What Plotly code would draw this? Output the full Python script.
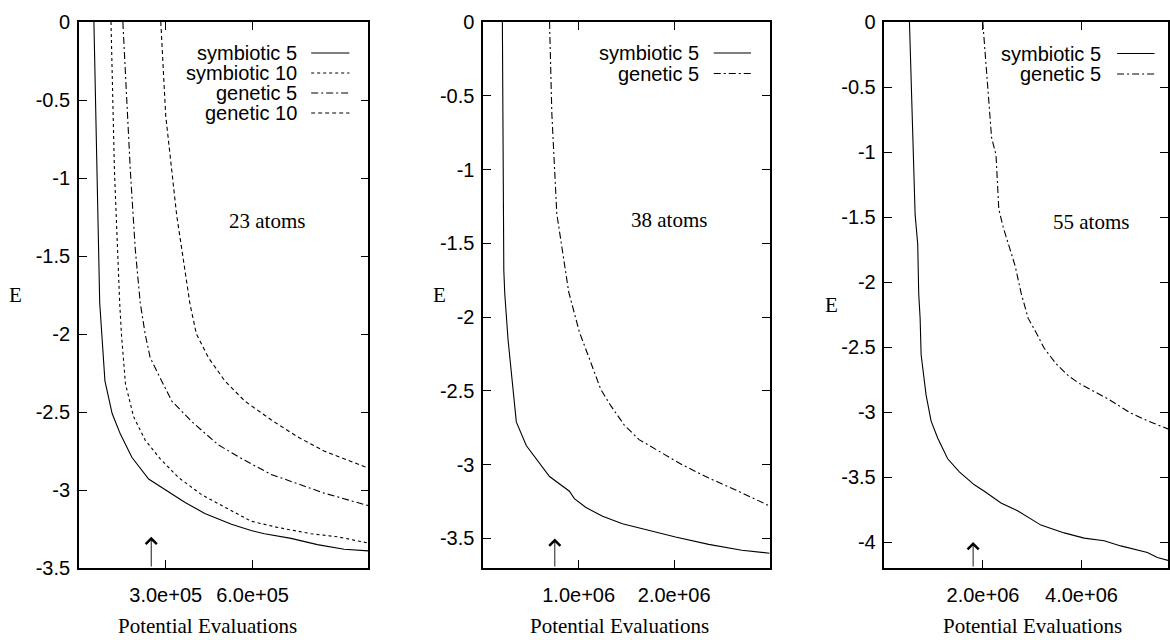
import plotly.graph_objects as go

# ---------------- data ----------------
# Panel 1: 23 atoms
x23_sym5 = [52e3, 72e3, 90e3, 115e3, 143e3, 183e3, 241e3, 298e3, 367e3, 435e3, 527e3, 595e3, 641e3, 733e3, 824e3, 916e3, 1000e3]
e23_sym5 = [0, -1.80, -2.30, -2.51, -2.64, -2.79, -2.93, -3.00, -3.08, -3.15, -3.22, -3.26, -3.28, -3.31, -3.35, -3.38, -3.39]
x23_sym10 = [111e3, 123e3, 141e3, 147e3, 161e3, 189e3, 229e3, 281e3, 344e3, 424e3, 504e3, 595e3, 687e3, 801e3, 893e3, 1000e3]
e23_sym10 = [0, -0.96, -1.80, -2.00, -2.32, -2.53, -2.68, -2.80, -2.92, -3.03, -3.11, -3.20, -3.24, -3.28, -3.30, -3.34]
x23_gen5 = [152e3, 178e3, 195e3, 212e3, 229e3, 246e3, 275e3, 321e3, 389e3, 481e3, 573e3, 664e3, 756e3, 847e3, 1000e3]
e23_gen5 = [0, -0.96, -1.46, -1.80, -2.00, -2.15, -2.26, -2.43, -2.56, -2.71, -2.81, -2.90, -2.96, -3.02, -3.10]
x23_gen10 = [283e3, 300e3, 338e3, 384e3, 406e3, 447e3, 504e3, 573e3, 664e3, 756e3, 847e3, 1000e3]
e23_gen10 = [0, -0.60, -1.24, -1.81, -2.00, -2.15, -2.30, -2.43, -2.55, -2.66, -2.75, -2.86]

# Panel 2: 38 atoms
x38_sym5 = [201e3, 216e3, 226e3, 260e3, 313e3, 347e3, 451e3, 555e3, 695e3, 903e3, 955e3, 1076e3, 1250e3, 1458e3, 1701e3, 2014e3, 2361e3, 2708e3, 3000e3]
e38_sym5 = [0, -1.68, -1.84, -2.15, -2.49, -2.71, -2.87, -2.96, -3.08, -3.18, -3.23, -3.29, -3.35, -3.40, -3.44, -3.49, -3.54, -3.58, -3.60]
x38_gen5 = [695e3, 719e3, 771e3, 896e3, 1007e3, 1111e3, 1232e3, 1336e3, 1476e3, 1632e3, 1875e3, 2083e3, 2361e3, 2639e3, 3000e3]
e38_gen5 = [0, -0.62, -1.30, -1.83, -2.10, -2.28, -2.49, -2.60, -2.73, -2.83, -2.92, -3.00, -3.09, -3.17, -3.28]

# Panel 3: 55 atoms
x55_sym5 = [507e3, 574e3, 622e3, 675e3, 695e3, 724e3, 744e3, 845e3, 947e3, 1080e3, 1283e3, 1520e3, 1824e3, 2027e3, 2366e3, 2702e3, 3177e3, 3649e3, 4054e3, 4460e3, 4798e3, 5338e3, 5540e3, 5840e3]
e55_sym5 = [0, -0.97, -1.48, -1.71, -2.09, -2.28, -2.56, -2.87, -3.07, -3.20, -3.36, -3.46, -3.56, -3.61, -3.70, -3.76, -3.87, -3.93, -3.97, -3.99, -4.03, -4.08, -4.12, -4.15]
x55_gen5 = [1996e3, 2094e3, 2175e3, 2264e3, 2321e3, 2412e3, 2656e3, 2777e3, 2919e3, 3081e3, 3243e3, 3487e3, 3730e3, 3953e3, 4257e3, 4541e3, 5007e3, 5352e3, 5757e3, 5840e3]
e55_gen5 = [0, -0.52, -0.89, -1.02, -1.44, -1.58, -1.88, -2.09, -2.28, -2.39, -2.51, -2.63, -2.72, -2.78, -2.84, -2.90, -3.01, -3.07, -3.13, -3.15]

# axis ranges and ticks
panel_titles = ["23 atoms", "38 atoms", "55 atoms"]
x_ranges = [[0, 1.0e6], [0, 3.0e6], [0, 5.757e6]]
y_ranges = [[-3.5, 0], [-3.7, 0], [-4.2, 0]]
x_tickvals = [[3e5, 6e5], [1e6, 2e6], [2e6, 4e6]]
x_ticktext = [["3.0e+05", "6.0e+05"], ["1.0e+06", "2.0e+06"], ["2.0e+06", "4.0e+06"]]
y_tickvals = [[0, -0.5, -1, -1.5, -2, -2.5, -3, -3.5],
              [0, -0.5, -1, -1.5, -2, -2.5, -3, -3.5],
              [0, -0.5, -1, -1.5, -2, -2.5, -3, -3.5, -4]]
y_ticktext = [["0", "-0.5", "-1", "-1.5", "-2", "-2.5", "-3", "-3.5"],
              ["0", "-0.5", "-1", "-1.5", "-2", "-2.5", "-3", "-3.5"],
              ["0", "-0.5", "-1", "-1.5", "-2", "-2.5", "-3", "-3.5", "-4"]]
# arrows marking an evaluation count on each panel
arrow_x = [2.5e5, 7.5e5, 1.8e6]
arrow_tip = [-3.30, -3.50, -4.00]

# ---------------- styling ----------------
W, H = 1170, 640
TOP, BOT = 22, 568
SANS = "Liberation Sans"
SERIF = "Liberation Serif"
SANS_SIZE = 20
SERIF_SIZE = 21
DASH = {"symbiotic 5": "solid", "symbiotic 10": "3px,3px",
        "genetic 5": "7px,3px,2px,3px", "genetic 10": "4px,3px"}

def pxx(v):
    return v / W

def pyy(v):
    return (BOT - v) / (BOT - TOP)

domains = [[pxx(79), pxx(369)], [pxx(484), pxx(771)], [pxx(886), 1.0]]

series = [
    [("symbiotic 5", x23_sym5, e23_sym5), ("symbiotic 10", x23_sym10, e23_sym10),
     ("genetic 5", x23_gen5, e23_gen5), ("genetic 10", x23_gen10, e23_gen10)],
    [("symbiotic 5", x38_sym5, e38_sym5), ("genetic 5", x38_gen5, e38_gen5)],
    [("symbiotic 5", x55_sym5, e55_sym5), ("genetic 5", x55_gen5, e55_gen5)],
]

fig = go.Figure()
for i, panel in enumerate(series):
    suf = "" if i == 0 else str(i + 1)
    for name, xs, es in panel:
        fig.add_trace(go.Scatter(x=xs, y=es, mode="lines", name=name, showlegend=False,
                                 line=dict(color="black", width=1.1, dash=DASH[name]),
                                 xaxis="x" + suf, yaxis="y" + suf, hoverinfo="skip"))

layout = dict(width=W, height=H, margin=dict(l=0, r=0, t=TOP, b=H - BOT),
              paper_bgcolor="white", plot_bgcolor="white", showlegend=False)
annotations = []
shapes = []

for i in range(3):
    suf = "" if i == 0 else str(i + 1)
    layout["xaxis" + suf] = dict(domain=domains[i], range=x_ranges[i], tickvals=x_tickvals[i],
                                 ticktext=x_ticktext[i], ticks="inside", ticklen=8, tickwidth=1,
                                 tickcolor="black", showline=True, linecolor="black", linewidth=1.5,
                                 mirror="ticks", showgrid=False, zeroline=False, anchor="y" + suf,
                                 tickfont=dict(family=SANS, size=SANS_SIZE, color="black"),
                                 ticklabelstandoff=8, fixedrange=True)
    layout["yaxis" + suf] = dict(domain=[0, 1], range=y_ranges[i], tickvals=y_tickvals[i],
                                 ticktext=y_ticktext[i], ticks="inside", ticklen=8, tickwidth=1,
                                 tickcolor="black", showline=True, linecolor="black", linewidth=1.5,
                                 mirror="ticks", showgrid=False, zeroline=False, anchor="x" + suf,
                                 tickfont=dict(family=SANS, size=SANS_SIZE, color="black"),
                                 ticklabelstandoff=3, fixedrange=True)
    # arrow
    annotations.append(dict(x=arrow_x[i], y=arrow_tip[i], ax=arrow_x[i], ay=y_ranges[i][0],
                            xref="x" + suf, yref="y" + suf, axref="x" + suf, ayref="y" + suf,
                            text="", showarrow=True, arrowhead=4, arrowsize=2.4, arrowwidth=0.9,
                            arrowcolor="black"))

# axis labels and panel captions
e_pos = [(15.5, 295), (440, 295), (832.5, 305)]
xl_pos = [208, 621, 1034]
cap_pos = [(267.5, 221), (670, 220), (1093, 222)]
for i in range(3):
    annotations.append(dict(x=pxx(e_pos[i][0]), y=pyy(e_pos[i][1]), xref="paper", yref="paper",
                            text="E", showarrow=False, xanchor="center", yanchor="middle",
                            font=dict(family=SERIF, size=SERIF_SIZE, color="black")))
    annotations.append(dict(x=pxx(xl_pos[i]), y=pyy(626), xref="paper", yref="paper",
                            text="Potential Evaluations", showarrow=False, xanchor="center",
                            yanchor="middle", font=dict(family=SERIF, size=SERIF_SIZE, color="black")))
    annotations.append(dict(x=pxx(cap_pos[i][0]), y=pyy(cap_pos[i][1]), xref="paper", yref="paper",
                            text=panel_titles[i], showarrow=False, xanchor="center",
                            yanchor="middle", font=dict(family=SERIF, size=SERIF_SIZE, color="black")))

# legends (gnuplot style: text right-aligned, key line on the right)
legend_geom = [
    (300, 311.7, 350, [53, 73, 93, 113]),
    (702, 715, 752.3, [53, 73.5]),
    (1105, 1119, 1156.5, [53.5, 74]),
]
for i, panel in enumerate(series):
    tx, l0, l1, rows = legend_geom[i]
    for (name, _, _), ry in zip(panel, rows):
        annotations.append(dict(x=pxx(tx), y=pyy(ry), xref="paper", yref="paper", text=name,
                                showarrow=False, xanchor="right", yanchor="middle",
                                font=dict(family=SANS, size=SANS_SIZE, color="black")))
        shapes.append(dict(type="line", xref="paper", yref="paper", x0=pxx(l0), x1=pxx(l1),
                           y0=pyy(ry), y1=pyy(ry),
                           line=dict(color="black", width=1.1, dash=DASH[name])))

layout["annotations"] = annotations
layout["shapes"] = shapes
fig.update_layout(**layout)
fig.write_html("out.html", config={"displayModeBar": False},
               post_script="document.body.style.margin='0';")
